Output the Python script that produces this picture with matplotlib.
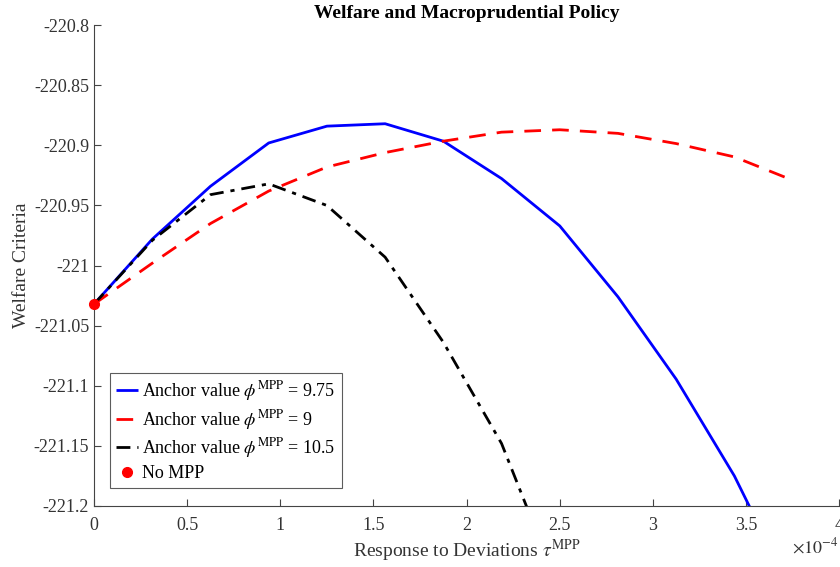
import numpy as np
import matplotlib
matplotlib.use("Agg")
import matplotlib.pyplot as plt

plt.rcParams['font.family'] = ['Liberation Serif', 'DejaVu Serif']
plt.rcParams['mathtext.fontset'] = 'stix'

# Policy response grid (in units of 1e-4)
tau_e4 = [0.0, 0.3125, 0.625, 0.9375, 1.25, 1.5625, 1.875, 2.1875, 2.5,
          2.8125, 3.125, 3.4375, 3.75]

# Welfare criteria for each anchor value
welfare_975 = [-221.032, -220.978, -220.934, -220.898, -220.884, -220.882,
               -220.8965, -220.9276, -220.967, -221.026, -221.0945, -221.175,
               -221.273]
welfare_9 = [-221.032, -220.998, -220.965, -220.938, -220.918, -220.906,
             -220.8965, -220.889, -220.887, -220.890, -220.8985, -220.9096,
             -220.929]
welfare_105 = [-221.032, -220.979, -220.941, -220.932, -220.950, -220.993,
               -221.0638, -221.148, -221.27]

no_mpp_x = [0.0]
no_mpp_y = [-221.032]

fig = plt.figure(figsize=(8.4, 5.67), dpi=100)
ax = fig.add_axes([0.112, 0.1076, 0.887, 0.848])

ax.plot(tau_e4, welfare_975, color='#0000ff', lw=2.0, solid_capstyle='butt',
        label=r'Anchor value $\phi^{\mathrm{MPP}}$ = 9.75')
ax.plot(tau_e4, welfare_9, color='#ff0000', lw=2.0, dashes=(6, 4),
        label=r'Anchor value $\phi^{\mathrm{MPP}}$ = 9')
ax.plot(tau_e4[:len(welfare_105)], welfare_105, color='black', lw=2.0,
        dashes=(5, 2.5, 1.5, 2.5),
        label=r'Anchor value $\phi^{\mathrm{MPP}}$ = 10.5')
ax.plot(no_mpp_x, no_mpp_y, 'o', color='#ff0000', ms=7, mec='#ff0000',
        label='No MPP', clip_on=False, zorder=5)

ax.set_xlim(0, 4)
ax.set_ylim(-221.2, -220.8)
ax.set_xticks(np.arange(0, 4.01, 0.5))
ax.set_xticklabels(['0', '0.5', '1', '1.5', '2', '2.5', '3', '3.5', '4'])
ax.set_yticks(np.arange(-221.2, -220.79, 0.05))
ax.set_yticklabels(['-221.2', '-221.15', '-221.1', '-221.05', '-221',
                    '-220.95', '-220.9', '-220.85', '-220.8'])

for s in ['top', 'right']:
    ax.spines[s].set_visible(False)
for s in ['left', 'bottom']:
    ax.spines[s].set_color('#444444')
    ax.spines[s].set_linewidth(0.8)
ax.tick_params(direction='in', length=5, width=0.8, colors='#444444',
               labelcolor='#333333', labelsize=13)
ax.tick_params(axis='x', pad=8)

ax.set_title('Welfare and Macroprudential Policy', fontsize=14,
             fontweight='bold', pad=5)
ax.set_xlabel(r'Response to Deviations $\tau^{\mathrm{MPP}}$', fontsize=14,
              color='#333333', labelpad=3)
ax.set_ylabel('Welfare Criteria', fontsize=14, color='#333333', labelpad=3)
fig.text(0.998, 0.018, r'$\times10^{-4}$', ha='right', va='bottom',
         fontsize=13, color='#333333')

leg = ax.legend(loc='lower left', bbox_to_anchor=(0.021, 0.037), fontsize=13,
                frameon=True, fancybox=False, edgecolor='#333333',
                handlelength=1.2, handletextpad=0.25, borderpad=0.35,
                labelspacing=0.25, borderaxespad=0)
leg.get_frame().set_linewidth(0.8)

fig.savefig('out.png', dpi=100)
